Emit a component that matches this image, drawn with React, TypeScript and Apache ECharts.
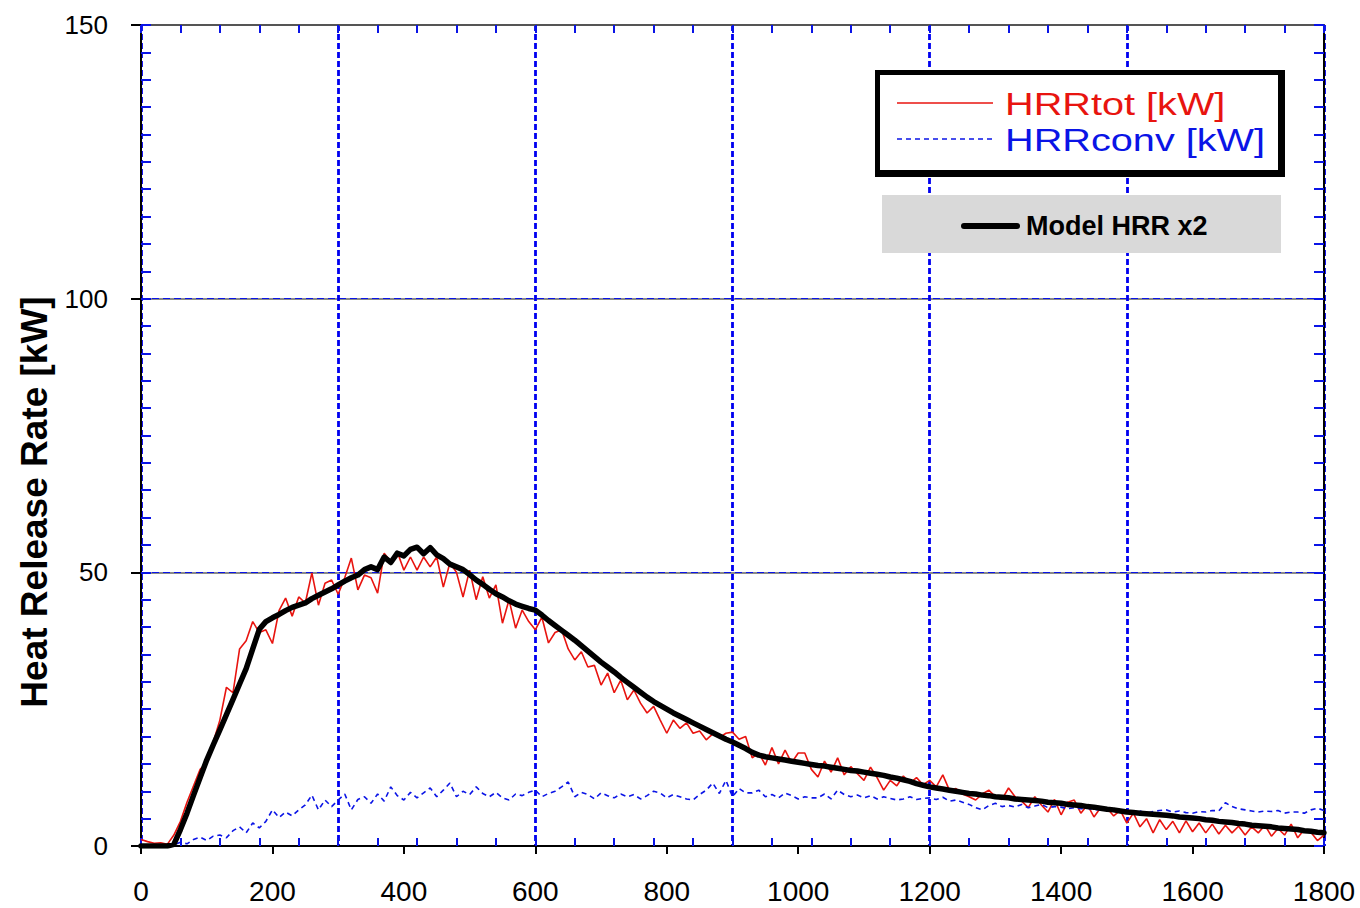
import React, { useEffect, useRef } from "react";
import * as echarts from "echarts";

// Sample times: every 10 s from 0 to 1800 s
const T_STEP = 10;

// HRRtot [kW] (red, measured)
const hrrTot = [
  1.2, 0.8, 0.5, 0.6, 0.3, 2.0, 4.5, 8.0, 11.0, 14.0,
  15.2, 19.0, 23.0, 29.0, 28.0, 36.0, 37.5, 41.0, 39.0, 39.5,
  37.0, 43.0, 45.3, 42.0, 45.5, 44.4, 49.9, 44.0, 48.0, 48.6,
  46.0, 49.0, 52.6, 46.8, 49.5, 49.0, 46.2, 53.5, 52.0, 53.7,
  50.4, 52.8, 50.4, 52.8, 51.0, 52.8, 47.3, 51.7, 50.0, 45.5,
  50.4, 45.0, 49.2, 45.3, 47.7, 40.7, 45.0, 39.8, 43.1, 41.0,
  39.5, 41.8, 37.1, 39.0, 39.5, 36.0, 34.0, 35.5, 32.7, 33.0,
  29.4, 31.6, 28.0, 30.3, 26.7, 28.5, 26.1, 24.3, 25.5, 23.0,
  20.6, 23.0, 21.5, 22.5, 20.6, 21.0, 19.4, 20.5, 19.8, 20.6,
  20.8, 19.5, 20.0, 16.1, 17.0, 14.8, 18.0, 15.0, 17.5, 15.2,
  17.0, 17.0, 14.0, 12.6, 15.5, 13.5, 16.1, 13.0, 14.5, 13.2,
  12.0, 14.4, 12.5, 10.2, 12.0, 11.0, 12.8, 11.5, 12.5, 11.2,
  12.0, 10.8, 13.0, 10.2, 10.5, 9.5, 9.0, 8.4, 9.5, 10.2,
  9.0, 8.5, 10.6, 9.0, 8.2, 7.0, 9.0, 7.5, 6.2, 8.5,
  5.7, 8.0, 8.4, 6.0, 7.5, 5.3, 7.0, 6.9, 5.5, 6.5,
  4.2, 6.0, 3.5, 5.0, 2.4, 4.8, 3.0, 4.5, 2.4, 4.6,
  2.6, 4.2, 2.4, 4.0, 2.2, 3.8, 2.4, 3.6, 2.0, 3.5,
  2.4, 3.8, 1.8, 3.2, 2.0, 4.0, 1.5, 3.0, 2.5, 1.0,
  2.0,
];

// HRRconv [kW] (blue dashed, measured)
const hrrConv = [
  0, 0, 0, 0, 0, 0.2, 0.7, 0.4, 1.2, 1.6,
  1.0, 1.8, 2.0, 1.5, 2.8, 3.5, 2.4, 4.2, 3.3, 4.5,
  6.6, 5.2, 6.2, 5.5, 6.6, 7.5, 9.3, 6.6, 8.4, 7.2,
  8.4, 9.5, 6.6, 8.5, 9.0, 7.8, 9.5, 8.2, 10.8, 9.2,
  8.4, 9.8, 8.8, 9.7, 10.6, 9.0, 10.2, 11.5, 9.0, 10.0,
  9.4, 10.8, 9.6, 9.0, 9.8, 8.8, 8.4, 9.5, 9.2, 9.8,
  10.2, 9.0, 9.6, 10.0, 10.8, 11.7, 9.0, 9.8, 9.4, 8.6,
  9.7, 9.2, 8.8, 9.5, 9.0, 9.4, 8.6, 9.2, 10.0, 9.7,
  8.8, 9.4, 9.0, 8.6, 8.4, 9.4, 10.2, 11.5, 9.6, 12.0,
  9.0, 10.5, 9.7, 9.7, 10.2, 9.0, 9.4, 8.8, 9.7, 9.2,
  8.6, 9.0, 8.8, 8.8, 9.5, 8.6, 10.2, 9.4, 9.0, 9.3,
  8.8, 9.2, 8.6, 9.0, 8.7, 8.4, 8.6, 9.0, 8.5, 8.7,
  8.8, 8.5, 8.9, 8.2, 8.4, 8.0, 7.6, 7.0, 6.6, 7.4,
  7.8, 7.2, 7.4, 7.1, 7.6, 7.0, 7.3, 7.6, 7.0, 7.2,
  7.1, 6.8, 7.0, 6.8, 6.9, 6.6, 6.7, 6.8, 6.4, 6.6,
  6.5, 6.2, 6.4, 6.0, 6.3, 6.5, 6.6, 6.2, 6.4, 6.1,
  6.0, 6.3, 6.2, 6.5, 6.4, 7.9, 7.2, 6.8, 6.6, 6.4,
  6.2, 6.4, 6.3, 6.5, 6.0, 6.2, 6.2, 6.0, 6.6, 6.9,
  6.5,
];

// Model HRR x2 [kW] (black, thick)
const modelHrr = [
  0, 0, 0, 0, 0, 0.3, 3.0, 6.0, 9.3, 12.5,
  15.7, 18.5, 21.2, 24.0, 26.8, 29.6, 32.4, 36.0, 39.6, 41.0,
  41.7, 42.3, 43.0, 43.6, 44.0, 44.4, 45.2, 45.8, 46.4, 47.0,
  47.7, 48.4, 49.0, 49.5, 50.5, 51.0, 50.5, 52.8, 51.8, 53.5,
  53.0, 54.2, 54.6, 53.4, 54.5, 53.2, 52.5, 51.5, 51.0, 50.5,
  49.6, 48.6, 47.8, 46.9, 46.1, 45.5, 44.8, 44.2, 43.8, 43.4,
  43.1, 42.2, 41.2, 40.3, 39.4, 38.5, 37.6, 36.6, 35.6, 34.6,
  33.6, 32.7, 31.8, 30.8, 29.9, 29.0, 28.1, 27.2, 26.4, 25.7,
  25.0, 24.3, 23.7, 23.1, 22.5, 21.9, 21.3, 20.7, 20.1, 19.5,
  19.0, 18.4, 17.8, 17.1, 16.6, 16.3, 16.1, 15.9, 15.7, 15.5,
  15.3, 15.1, 14.9, 14.7, 14.6, 14.4, 14.2, 14.0, 13.8, 13.7,
  13.5, 13.3, 13.1, 12.9, 12.6, 12.4, 12.1, 11.8, 11.4, 11.1,
  10.8, 10.6, 10.4, 10.2, 10.0, 9.8, 9.6, 9.5, 9.3, 9.2,
  9.0, 8.9, 8.8, 8.6, 8.5, 8.4, 8.3, 8.2, 8.0, 7.9,
  7.8, 7.6, 7.5, 7.4, 7.2, 7.1, 6.9, 6.7, 6.6, 6.4,
  6.2, 6.1, 6.0, 5.9, 5.8, 5.7, 5.6, 5.5, 5.3, 5.2,
  5.1, 5.0, 4.8, 4.7, 4.5, 4.4, 4.3, 4.1, 4.0, 3.8,
  3.7, 3.6, 3.5, 3.3, 3.2, 3.1, 3.0, 2.8, 2.7, 2.5,
  2.4,
];

const X_MIN = 0;
const X_MAX = 1800;
const X_LABEL_STEP = 200;
const X_GRID_STEP = 300;
const Y_MIN = 0;
const Y_MAX = 150;
const Y_STEP = 50;

const LEGEND_TOT = "HRRtot [kW]";
const LEGEND_CONV = "HRRconv [kW]";
const LEGEND_MODEL = "Model HRR x2";
const Y_TITLE = "Heat Release Rate [kW]";

const RED = "#E8140F";
const BLUE = "#0A14E6";

const toPairs = (vals: number[]) => vals.map((v, i) => [i * T_STEP, v]);

export default function App() {
  const ref = useRef<HTMLDivElement>(null);
  useEffect(() => {
    if (!ref.current) return;
    const chart = echarts.init(ref.current, undefined, { renderer: "svg" });
    const font = "'Liberation Sans', sans-serif";
    const blueTick = { color: BLUE, width: 2 };
    chart.setOption({
      animation: false,
      backgroundColor: "#ffffff",
      grid: { left: 141, right: 36, top: 25, bottom: 62, containLabel: false, outerBoundsMode: "none" },
      xAxis: [
        {
          type: "value", position: "bottom", min: X_MIN, max: X_MAX, interval: X_LABEL_STEP,
          axisLine: { show: true, onZero: false, lineStyle: { color: "#000", width: 2 } },
          axisTick: { show: true, inside: false, length: 8, lineStyle: { color: "#000", width: 2 } },
          axisLabel: {
            show: true, margin: 31, fontSize: 28, lineHeight: 28, color: "#000", fontFamily: font,
            formatter: (v: number) => String(v),
          },
          splitLine: { show: false },
        },
        {
          type: "value", position: "bottom", min: X_MIN, max: X_MAX, interval: X_GRID_STEP,
          axisLine: { show: false, onZero: false },
          axisTick: { show: true, inside: true, length: 8, lineStyle: blueTick },
          minorTick: { show: true, splitNumber: 5, length: 8, lineStyle: blueTick },
          axisLabel: { show: false },
          splitLine: { show: true, lineStyle: { color: "#0000F0", width: 2.8, type: [6, 3] } },
        },
        {
          type: "value", position: "top", min: X_MIN, max: X_MAX, interval: X_GRID_STEP,
          axisLine: { show: true, onZero: false, lineStyle: { color: "#555", width: 2 } },
          axisTick: { show: true, inside: true, length: 8, lineStyle: blueTick },
          minorTick: { show: true, splitNumber: 5, length: 8, lineStyle: blueTick },
          axisLabel: { show: false },
          splitLine: { show: false },
        },
      ],
      yAxis: [
        {
          type: "value", position: "left", min: Y_MIN, max: Y_MAX, interval: Y_STEP,
          axisLine: { show: true, onZero: false, lineStyle: { color: "#000", width: 2 } },
          axisTick: { show: true, inside: false, length: 10, lineStyle: { color: "#000", width: 2 } },
          axisLabel: { show: true, margin: 33, fontSize: 26, color: "#000", fontFamily: font },
          splitLine: { show: true, lineStyle: { color: "#8a8a8a", width: 2.2 } },
        },
        {
          type: "value", position: "right", min: Y_MIN, max: Y_MAX, interval: Y_STEP,
          axisLine: { show: true, onZero: false, lineStyle: { color: "#000", width: 2 } },
          axisTick: { show: true, inside: true, length: 10, lineStyle: blueTick },
          minorTick: { show: true, splitNumber: 10, length: 10, lineStyle: blueTick },
          axisLabel: { show: false },
          splitLine: { show: true, lineStyle: { color: BLUE, width: 1.2, type: [7, 4] } },
        },
        {
          type: "value", position: "left", min: Y_MIN, max: Y_MAX, interval: Y_STEP,
          axisLine: { show: false, onZero: false },
          axisTick: { show: true, inside: true, length: 10, lineStyle: blueTick },
          minorTick: { show: true, splitNumber: 10, length: 10, lineStyle: blueTick },
          axisLabel: { show: false },
          splitLine: { show: false },
        },
      ],
      series: [
        {
          name: LEGEND_TOT, type: "line", xAxisIndex: 0, yAxisIndex: 0,
          data: toPairs(hrrTot), showSymbol: false, symbol: "none",
          lineStyle: { color: RED, width: 1.6 }, z: 3,
        },
        {
          name: LEGEND_CONV, type: "line", xAxisIndex: 0, yAxisIndex: 0,
          data: toPairs(hrrConv), showSymbol: false, symbol: "none",
          lineStyle: { color: BLUE, width: 1.6, type: [5, 4] }, z: 3,
        },
        {
          name: LEGEND_MODEL, type: "line", xAxisIndex: 0, yAxisIndex: 0,
          data: toPairs(modelHrr), showSymbol: false, symbol: "none",
          lineStyle: { color: "#000", width: 5.5, cap: "round", join: "round" }, z: 4,
        },
      ],
      graphic: [
        {
          type: "text", x: 34, y: 502, rotation: Math.PI / 2, z: 12,
          style: { text: Y_TITLE, fill: "#000", font: "bold 37px 'Liberation Sans', sans-serif", align: "center", verticalAlign: "middle" },
        },
        { type: "rect", shape: { x: 875, y: 70, width: 410, height: 107 }, style: { fill: "#000" }, z: 10 },
        { type: "rect", shape: { x: 880, y: 75, width: 398, height: 95 }, style: { fill: "#fff" }, z: 11 },
        { type: "line", shape: { x1: 897, y1: 103, x2: 993, y2: 103 }, style: { stroke: RED, lineWidth: 1.6 }, z: 12 },
        { type: "line", shape: { x1: 897, y1: 139, x2: 993, y2: 139 }, style: { stroke: BLUE, lineWidth: 1.6, lineDash: [5, 4] }, z: 12 },
        {
          type: "text", x: 1005, y: 104, scaleX: 1.24, z: 12,
          style: { text: LEGEND_TOT, fill: RED, font: "32px 'Liberation Sans', sans-serif", verticalAlign: "middle", align: "left" },
        },
        {
          type: "text", x: 1005, y: 140, scaleX: 1.24, z: 12,
          style: { text: LEGEND_CONV, fill: BLUE, font: "32px 'Liberation Sans', sans-serif", verticalAlign: "middle", align: "left" },
        },
        { type: "rect", shape: { x: 882, y: 195, width: 399, height: 58 }, style: { fill: "#D9D9D9" }, z: 10 },
        { type: "line", shape: { x1: 964, y1: 226, x2: 1017, y2: 226 }, style: { stroke: "#000", lineWidth: 6, lineCap: "round" }, z: 12 },
        {
          type: "text", x: 1026, y: 226, z: 12,
          style: { text: LEGEND_MODEL, fill: "#000", font: "bold 27px 'Liberation Sans', sans-serif", verticalAlign: "middle", align: "left" },
        },
      ],
    });
    return () => chart.dispose();
  }, []);
  return <div ref={ref} style={{ position: "absolute", left: 0, top: 0, width: 1360, height: 908 }} />;
}
